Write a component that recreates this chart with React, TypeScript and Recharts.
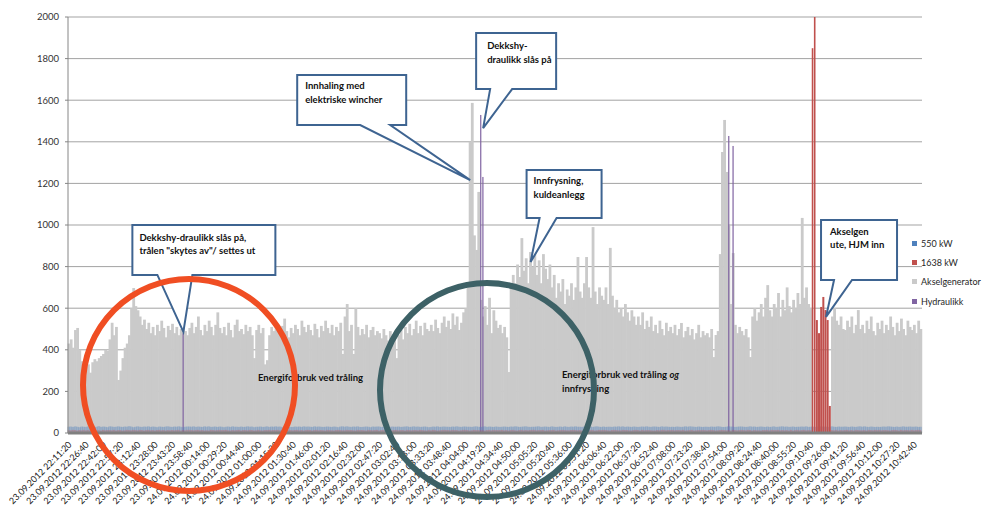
import { BarChart, Bar, XAxis, YAxis, CartesianGrid, Legend, ReferenceDot, Cell } from 'recharts';

const FONT = "Lato, 'Open Sans', sans-serif";

// one tick label per 8 samples
const TICK_LABELS = [
  '23.09.2012 22:11:20', '23.09.2012 22:26:40', '23.09.2012 22:42:00', '23.09.2012 22:57:20',
  '23.09.2012 23:12:40', '23.09.2012 23:28:00', '23.09.2012 23:43:20', '23.09.2012 23:58:40',
  '24.09.2012 00:14:00', '24.09.2012 00:29:20', '24.09.2012 00:44:40', '24.09.2012 01:00:00',
  '24.09.2012 01:15:20', '24.09.2012 01:30:40', '24.09.2012 01:46:00', '24.09.2012 02:01:20',
  '24.09.2012 02:16:40', '24.09.2012 02:32:00', '24.09.2012 02:47:20', '24.09.2012 03:02:40',
  '24.09.2012 03:18:00', '24.09.2012 03:33:20', '24.09.2012 03:48:40', '24.09.2012 04:04:00',
  '24.09.2012 04:19:20', '24.09.2012 04:34:40', '24.09.2012 04:50:00', '24.09.2012 05:05:20',
  '24.09.2012 05:20:40', '24.09.2012 05:36:00', '24.09.2012 05:51:20', '24.09.2012 06:06:40',
  '24.09.2012 06:22:00', '24.09.2012 06:37:20', '24.09.2012 06:52:40', '24.09.2012 07:08:00',
  '24.09.2012 07:23:20', '24.09.2012 07:38:40', '24.09.2012 07:54:00', '24.09.2012 08:09:20',
  '24.09.2012 08:24:40', '24.09.2012 08:40:00', '24.09.2012 08:55:20', '24.09.2012 09:10:40',
  '24.09.2012 09:26:00', '24.09.2012 09:41:20', '24.09.2012 09:56:40', '24.09.2012 10:12:00',
  '24.09.2012 10:27:20', '24.09.2012 10:42:40',
];
const SAMPLES_PER_LABEL = 8;

const Y_TICKS = [0, 200, 400, 600, 800, 1000, 1200, 1400, 1600, 1800, 2000];

// Akselgenerator (kW), 8 samples per row
const AKSELGENERATOR = [
  430, 450, 410, 495, 505, 400, 345, 330,
  310, 330, 290, 340, 355, 345, 360, 370,
  380, 400, 395, 450, 530, 470, 510, 255,
  300, 360, 410, 430, 470, 600, 697, 610,
  590, 560, 520, 545, 500, 530, 480, 510,
  470, 520, 490, 540, 505, 460, 515, 495,
  525, 480, 510, 470, 500, 545, 490, 470,
  505, 530, 480, 510, 560, 495, 470, 520,
  490, 540, 510, 470, 520, 580, 505, 480,
  510, 470, 530, 495, 460, 520, 545, 490,
  500, 475, 520, 490, 510, 470, 360, 495,
  520, 480, 505, 330, 350, 470, 510, 490,
  530, 495, 470, 515, 550, 490, 460, 505,
  480, 520, 500, 470, 540, 510, 485, 520,
  495, 470, 525, 500, 460, 515, 490, 540,
  505, 480, 520, 470, 510, 490, 530, 380,
  560, 620, 490, 520, 380, 600, 510, 470,
  500, 475, 520, 460, 495, 510, 470, 490,
  480, 455, 500, 470, 445, 490, 430, 460,
  360, 470, 495, 450, 510, 480, 525, 470,
  500, 540, 480, 515, 470, 530, 500, 490,
  520, 490, 545, 505, 480, 530, 560, 510,
  540, 500, 575, 520, 560, 495, 530, 580,
  600, 720, 1400, 1587, 950, 880, 1159, 640,
  560, 610, 520, 650, 480, 590, 540, 505,
  520, 480, 510, 460, 293, 700, 760, 720,
  810, 750, 937, 780, 840, 720, 870, 800,
  880, 760, 830, 720, 860, 790, 740, 810,
  700, 760, 650, 720, 680, 740, 620, 690,
  660, 720, 640, 700, 846, 680, 650, 720,
  846, 700, 650, 990, 680, 620, 700, 660,
  640, 700, 620, 890, 660, 600, 640, 580,
  600, 560, 620, 580, 540, 590, 560, 520,
  560, 520, 580, 500, 540, 510, 560, 490,
  520, 480, 540, 500, 470, 530, 490, 510,
  480, 520, 470, 500, 529, 460, 490, 510,
  470, 500, 450, 480, 520, 460, 490, 470,
  480, 460, 500, 365, 471, 490, 860, 1351,
  1505, 1255, 1000, 620, 865, 520, 480, 510,
  490, 470, 500, 460, 365, 560, 600, 540,
  580, 620, 560, 650, 711, 590, 560, 620,
  600, 673, 560, 640, 590, 700, 610, 580,
  640, 600, 673, 620, 1034, 650, 700, 620,
  600, 0, 0, 0, 0, 0, 0, 0,
  0, 0, 560, 600, 540, 520, 560, 500,
  495, 540, 510, 560, 480, 520, 591, 500,
  520, 480, 540, 500, 560, 490, 470, 530,
  500, 540, 480, 520, 495, 560, 510, 470,
  530, 490, 550, 500, 470, 540, 510, 495,
  520, 480, 540, 500,
];

// 550 kW (kW)
const KW550 = [
  30, 31, 29, 32, 30, 28, 31, 30,
  29, 32, 30, 31, 28, 30, 33, 29,
  31, 30, 28, 32, 31, 29, 30, 32,
  30, 29, 31, 30, 33, 31, 28, 30,
  32, 30, 29, 31, 30, 32, 29, 31,
  30, 28, 31, 30, 29, 31, 32, 30,
  29, 31, 30, 32, 30, 28, 30, 31,
  31, 30, 32, 29, 31, 30, 29, 32,
  30, 32, 29, 30, 31, 29, 31, 30,
  28, 30, 31, 29, 32, 30, 30, 29,
  31, 29, 30, 32, 30, 31, 28, 30,
  30, 31, 29, 30, 32, 29, 31, 30,
  32, 30, 31, 28, 30, 31, 30, 29,
  29, 31, 30, 31, 29, 32, 30, 31,
  30, 29, 32, 30, 31, 30, 29, 30,
  31, 30, 29, 31, 30, 28, 31, 32,
  30, 32, 30, 29, 31, 30, 32, 29,
  29, 30, 31, 30, 28, 31, 30, 31,
  31, 29, 30, 32, 30, 29, 31, 30,
  30, 31, 29, 30, 31, 32, 29, 30,
  32, 30, 31, 29, 30, 31, 30, 28,
  29, 31, 30, 32, 29, 30, 31, 30,
  30, 29, 31, 30, 32, 30, 29, 31,
  31, 30, 30, 29, 31, 32, 30, 29,
  30, 32, 29, 31, 30, 29, 31, 30,
  29, 30, 31, 30, 29, 31, 30, 32,
  31, 29, 30, 31, 32, 30, 29, 30,
  30, 31, 32, 29, 30, 31, 30, 29,
  32, 30, 29, 30, 31, 29, 32, 30,
  29, 31, 30, 32, 30, 30, 29, 31,
  30, 30, 31, 29, 31, 32, 30, 29,
  31, 29, 30, 30, 29, 31, 30, 32,
  30, 32, 29, 31, 30, 29, 31, 30,
  29, 30, 31, 30, 32, 30, 29, 31,
  31, 30, 29, 32, 30, 31, 30, 29,
  30, 29, 31, 30, 29, 30, 32, 30,
  32, 31, 30, 29, 31, 30, 29, 30,
  30, 29, 31, 30, 30, 32, 31, 29,
  29, 30, 32, 31, 30, 29, 30, 31,
  31, 30, 29, 30, 32, 30, 31, 29,
  30, 31, 30, 29, 31, 29, 30, 32,
  29, 30, 31, 32, 30, 31, 29, 30,
  31, 29, 30, 30, 31, 30, 32, 29,
  30, 31, 29, 31, 30, 32, 30, 31,
  29, 30, 32, 30, 29, 31, 30, 30,
  31, 30, 29, 31, 30, 29, 31, 32,
  30, 32, 30, 29, 31, 30, 29, 30,
  29, 30, 31, 30, 32, 31, 30, 29,
  31, 29, 30, 32, 30, 30, 31, 30,
  30, 31, 29, 30,
];

// 1638 kW (kW)
const KW1638 = [
  14, 13, 15, 14, 12, 14, 13, 15,
  13, 14, 12, 15, 14, 13, 14, 12,
  15, 13, 14, 14, 13, 15, 12, 14,
  14, 12, 13, 15, 14, 13, 15, 14,
  13, 15, 14, 12, 14, 15, 13, 14,
  12, 14, 15, 13, 14, 12, 14, 13,
  14, 13, 14, 15, 12, 14, 13, 15,
  15, 14, 13, 14, 15, 13, 14, 12,
  13, 12, 15, 14, 13, 14, 15, 14,
  14, 15, 13, 12, 14, 13, 14, 15,
  12, 14, 14, 13, 15, 14, 12, 13,
  15, 13, 12, 14, 14, 15, 13, 14,
  14, 15, 13, 14, 12, 13, 15, 14,
  13, 14, 15, 13, 14, 12, 14, 15,
  14, 12, 14, 15, 13, 14, 13, 12,
  15, 14, 13, 12, 14, 15, 14, 13,
  13, 15, 14, 14, 13, 12, 15, 14,
  14, 13, 12, 15, 14, 13, 14, 15,
  12, 14, 15, 13, 15, 14, 13, 14,
  15, 13, 14, 14, 12, 15, 14, 13,
  14, 14, 13, 15, 14, 13, 12, 15,
  13, 15, 14, 12, 13, 14, 15, 14,
  14, 13, 15, 14, 14, 12, 13, 15,
  15, 14, 12, 13, 15, 14, 14, 13,
  13, 12, 14, 15, 13, 15, 14, 14,
  14, 15, 13, 14, 12, 14, 15, 13,
  12, 14, 15, 13, 14, 13, 14, 15,
  15, 13, 14, 14, 15, 12, 13, 14,
  14, 15, 12, 13, 14, 15, 14, 13,
  13, 14, 15, 14, 13, 14, 12, 15,
  14, 13, 14, 15, 12, 13, 15, 14,
  15, 14, 13, 12, 14, 15, 14, 13,
  13, 15, 14, 14, 13, 12, 14, 15,
  14, 12, 15, 13, 14, 14, 13, 12,
  12, 14, 13, 15, 15, 13, 14, 14,
  15, 13, 14, 14, 13, 15, 12, 13,
  14, 15, 12, 13, 14, 14, 15, 14,
  13, 14, 15, 14, 12, 13, 14, 15,
  14, 13, 14, 12, 15, 14, 13, 14,
  15, 14, 13, 15, 14, 12, 14, 13,
  13, 12, 14, 14, 15, 13, 15, 14,
  14, 15, 13, 14, 13, 14, 12, 15,
  12, 14, 15, 13, 14, 15, 13, 14,
  14, 1850, 2000, 543, 480, 606, 654, 591,
  543, 130, 14, 13, 15, 12, 14, 13,
  14, 15, 13, 14, 12, 15, 14, 13,
  13, 14, 12, 15, 14, 13, 15, 14,
  15, 13, 14, 14, 13, 12, 14, 15,
  14, 12, 15, 13, 14, 14, 13, 15,
  13, 14, 15, 14,
];

// Hydraulikk: zero except these [sample index, kW] pulses
const HYDRAULIKK_PULSES: [number, number][] = [
  [53, 480],
  [191, 1529],
  [192, 1231],
  [306, 1428],
  [308, 1380],
];

const SERIES = [
  { key: 'kw550', name: '550 kW', color: '#4F81BD' },
  { key: 'kw1638', name: '1638 kW', color: '#C0504D' },
  { key: 'aksel', name: 'Akselgenerator', color: '#CACACA' },
  { key: 'hyd', name: 'Hydraulikk', color: '#8064A2' },
];

const data = AKSELGENERATOR.map((v, i) => {
  const pulse = HYDRAULIKK_PULSES.find((p) => p[0] === i);
  return { i, aksel: v, kw550: KW550[i], kw1638: KW1638[i], hyd: pulse ? pulse[1] : 0 };
});

const CALLOUT_STROKE = '#3E6491';

// callouts anchored at a data point; box / base are pixel offsets from the tip
const CALLOUTS = [
  { x: 53, y: 486, box: [-51, 92, -107, -57], base: [-26, 9], text: [-44, -91], lines: ['Dekkshy-draulikk slås på,', 'trålen "skytes av"/ settes ut'] },
  { x: 186, y: 1216, box: [-173, -64, -105, -55], base: [-110, -80], text: [-165, -91], lines: ['Innhaling med', 'elektriske wincher'] },
  { x: 192, y: 1466, box: [-7, 73, -95, -39], base: [7, 29], text: [4, -79], lines: ['Dekkshy-', 'draulikk slås på'] },
  { x: 214, y: 822, box: [-4, 71, -92, -44], base: [9, 26], text: [3, -78], lines: ['Innfrysning,', 'kuldeanlegg'] },
  { x: 351, y: 558, box: [-5, 71, -97, -37], base: [8, 26], text: [4, -82], lines: ['Akselgen', 'ute, HJM inn'] },
];

function Callout({ cx, cy, c }: any) {
  const [l, r, t, b] = c.box;
  const [p1, p2] = c.base;
  const d = `M${cx + l},${cy + t} H${cx + r} V${cy + b} H${cx + p2} L${cx},${cy} L${cx + p1},${cy + b} H${cx + l} Z`;
  return (
    <g>
      <path d={d} fill="#fff" stroke={CALLOUT_STROKE} strokeWidth={2} />
      {c.lines.map((ln: string, k: number) => (
        <text key={k} x={cx + c.text[0]} y={cy + c.text[1] + k * 13.5} fontFamily={FONT} fontWeight={700} fontSize={9.5} fill="#111">
          {ln}
        </text>
      ))}
    </g>
  );
}

function XTick({ x, y, payload }: any) {
  const idx = payload.value / SAMPLES_PER_LABEL;
  const label = Number.isInteger(idx) ? TICK_LABELS[idx] : '';
  return (
    <g transform={`translate(${x + 1},${y + 10})`}>
      <text transform="rotate(-45)" textAnchor="end" dy="0.35em" fontSize={9} fontFamily={FONT} fill="#1a1a1a">
        {label}
      </text>
    </g>
  );
}

// bars slightly wider than their band so the dense series reads as a solid mass
function FullBar(props: any) {
  const { x, y, width, height, fill, fillOpacity } = props;
  if (!height) return <g />;
  return <rect x={x - 0.4} y={y} width={width + 0.8} height={height} fill={fill} fillOpacity={fillOpacity} />;
}

function ThinBar(props: any) {
  const { x, y, width, height, fill } = props;
  if (!height) return <g />;
  return <rect x={x + width / 2 - 0.6} y={y} width={1.2} height={height} fill={fill} />;
}

// tall generator spikes are drawn as thin lines, like the original
function RedBar(props: any) {
  const { x, y, width, height, fill, fillOpacity, value } = props;
  if (!height) return <g />;
  const v = Array.isArray(value) ? value[1] - value[0] : value;
  if (v > 1000) return <rect x={x + width / 2 - 0.8} y={y} width={1.6} height={height} fill={fill} />;
  return <rect x={x} y={y} width={width} height={height} fill={fill} fillOpacity={fillOpacity} />;
}

function LegendBox() {
  return (
    <div style={{ fontFamily: FONT, fontSize: 9, color: '#262626' }}>
      {SERIES.map((s) => (
        <div key={s.key} style={{ display: 'flex', alignItems: 'center', height: 19.2 }}>
          <span style={{ display: 'inline-block', width: 5, height: 5, background: s.color, marginRight: 4 }} />
          {s.name}
        </div>
      ))}
    </div>
  );
}

export default function App() {
  return (
    <div style={{ position: 'absolute', left: 0, top: 0, width: 986, height: 510, background: '#fff' }}>
      <BarChart
        width={986}
        height={510}
        data={data}
        margin={{ top: 17, right: 64, bottom: 0, left: 0 }}
        barCategoryGap={0}
        barGap="-100%"
      >
        <CartesianGrid vertical={false} stroke="#A3A3A3" />
        <XAxis
          dataKey="i"
          height={77}
          interval={SAMPLES_PER_LABEL - 1}
          tick={<XTick />}
          tickLine={false}
          tickSize={0}
          tickMargin={0}
          axisLine={{ stroke: '#808080', strokeWidth: 3 }}
        />
        <YAxis
          width={68}
          domain={[0, 2000]}
          ticks={Y_TICKS}
          tick={{ fontSize: 9.5, fill: '#333', fontFamily: FONT }}
          tickSize={3}
          tickMargin={6}
          axisLine={{ stroke: '#868686' }}
          tickLine={{ stroke: '#868686' }}
        />
        <Legend
          layout="vertical"
          align="center"
          verticalAlign="middle"
          wrapperStyle={{ left: 912, top: 234, width: 74 }}
          content={<LegendBox />}
        />
        <Bar dataKey="aksel" name="Akselgenerator" fill="#CACACA" shape={<FullBar />} isAnimationActive={false} />
        <Bar dataKey="hyd" name="Hydraulikk" fill="#8064A2" shape={<ThinBar />} isAnimationActive={false} />
        <Bar dataKey="kw550" name="550 kW" fill="#4F81BD" fillOpacity={0.35} shape={<FullBar />} isAnimationActive={false} />
        <Bar dataKey="kw1638" name="1638 kW" fill="#C0504D" shape={<RedBar />} isAnimationActive={false}>
          {KW1638.map((v, i) => (
            <Cell key={i} fillOpacity={v > 100 ? 1 : 0.35} />
          ))}
        </Bar>
        {CALLOUTS.map((c, k) => (
          <ReferenceDot
            key={k}
            x={c.x}
            y={c.y}
            r={0}
            ifOverflow="visible"
            shape={(p: any) => <Callout cx={p.cx} cy={p.cy} c={c} />}
          />
        ))}
      </BarChart>
      <svg width={986} height={510} style={{ position: 'absolute', left: 0, top: 0, pointerEvents: 'none' }}>
        <text x={258} y={381} fontFamily={FONT} fontWeight={700} fontSize={9.5} fill="#111">
          Energiforbruk ved  tråling
        </text>
        <text x={562} y={378} fontFamily={FONT} fontWeight={700} fontSize={9.5} fill="#111">
          Energiforbruk ved tråling <tspan fontStyle="italic">og</tspan>
        </text>
        <text x={562} y={392} fontFamily={FONT} fontWeight={700} fontSize={9.5} fill="#111">
          innfrysning
        </text>
        <circle cx={189} cy={385} r={106} fill="none" stroke="#F04E23" strokeWidth={6} />
        <circle cx={487} cy={390} r={107} fill="none" stroke="#3D6166" strokeWidth={6} />
      </svg>
    </div>
  );
}
